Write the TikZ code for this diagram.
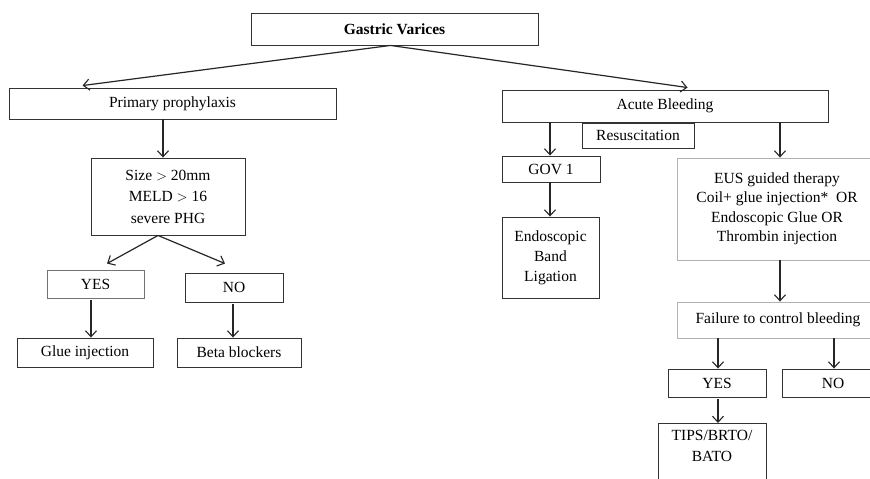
\documentclass[tikz,border=0pt]{standalone}
\usepackage{fontspec}
\setmainfont{Liberation Serif}
\usetikzlibrary{arrows.meta,calc}
\begin{document}
\begin{tikzpicture}[x=1pt,y=-1pt,
  box/.style={draw=black!80, line width=0.9pt, inner sep=0pt, align=center,
    font=\fontsize{15.5}{20}\selectfont},
  sz/.style 2 args={minimum width=#1, minimum height=#2},
  lbox/.style={box, draw=black!30},
  arr/.style={draw=black!85, line width=1.2pt, -{Straight Barb[length=6pt,width=11pt,line width=1.1pt]}}]
\useasboundingbox[fill=white] (0,0) rectangle (870,479);
% left branch
\node[box, sz={287}{32}, font=\fontsize{15.5}{20}\selectfont\bfseries] (gv) at (394.5,29) {Gastric Varices};
\node[box, sz={327}{31}] (pp) at (172.5,103.5) {Primary prophylaxis};
\node[box, sz={154}{77}, font=\fontsize{15.5}{21.5}\selectfont] (size) at (168,196.5) {Size $>$ 20mm\\MELD $>$ 16\\severe PHG};
\node[box, draw=black!55, sz={97}{28}] (yesa) at (95.5,284) {YES};
\node[box, sz={98}{29}] (noa) at (234,287.5) {NO};
\node[box, sz={136}{29}] (glue) at (85,352.5) {Glue injection};
\node[box, sz={124}{29}] (beta) at (239,352.5) {Beta blockers};
% right branch
\node[box, sz={326}{32}] (ab) at (665,106) {Acute Bleeding};
\node[box, sz={112}{25}] (res) at (638,135.5) {Resuscitation};
\node[box, sz={98}{26}] (gov) at (551,169) {GOV 1};
\node[box, sz={97}{81}] (ebl) at (550.5,257.5) {Endoscopic\\Band\\Ligation};
\node[lbox, sz={200}{102}, font=\fontsize{15.5}{19.5}\selectfont] (eus) at (777,209) {EUS guided therapy\\Coil+ glue injection*\ \ OR\\Endoscopic Glue OR\\Thrombin injection};
\node[lbox, sz={202}{36}] (fail) at (778,320) {Failure to control bleeding};
\node[box, sz={98}{28}] (yesb) at (717,383) {YES};
\node[box, sz={102}{28}] (nob) at (833,383) {NO};
\node[box, sz={108}{69}, anchor=north] (tips) at (712,423) {};
\node[inner sep=0pt, align=center, anchor=north, font=\fontsize{15.5}{21}\selectfont] (tipstext) at ([yshift=-7pt]tips.north) {TIPS/BRTO/\\BATO};
% connectors
\draw[arr] ([xshift=-4pt]gv.south) -- ([xshift=74pt,yshift=2pt]pp.north west);
\draw[arr] ([xshift=-4pt]gv.south) -- ([xshift=186pt,yshift=2pt]ab.north west);
\draw[arr] (pp.south -| 163,0) -- (size.north -| 163,0);
\draw[arr] ([xshift=-10pt]size.south) -- ([yshift=6pt]yesa.north -| 107,0);
\draw[arr] ([xshift=-10pt]size.south) -- ([yshift=9pt]noa.north -| 225,0);
\draw[arr] ([yshift=-2pt]yesa.south -| 91,0) -- (glue.north -| 91,0);
\draw[arr] ([yshift=-2pt]noa.south -| 233,0) -- (beta.north -| 233,0);
\draw[arr] (ab.south -| 550,0) -- (gov.north -| 550,0);
\draw[arr] (ab.south -| 780,0) -- (eus.north -| 780,0);
\draw[arr] (gov.south -| 550,0) -- (ebl.north -| 550,0);
\draw[arr] (eus.south -| 780,0) -- (fail.north -| 780,0);
\draw[arr] (fail.south -| 718,0) -- (yesb.north -| 718,0);
\draw[arr] (fail.south -| 834,0) -- (nob.north -| 834,0);
\draw[arr] ([yshift=-2pt]yesb.south -| 718,0) -- (tips.north -| 718,0);
\end{tikzpicture}
\end{document}
